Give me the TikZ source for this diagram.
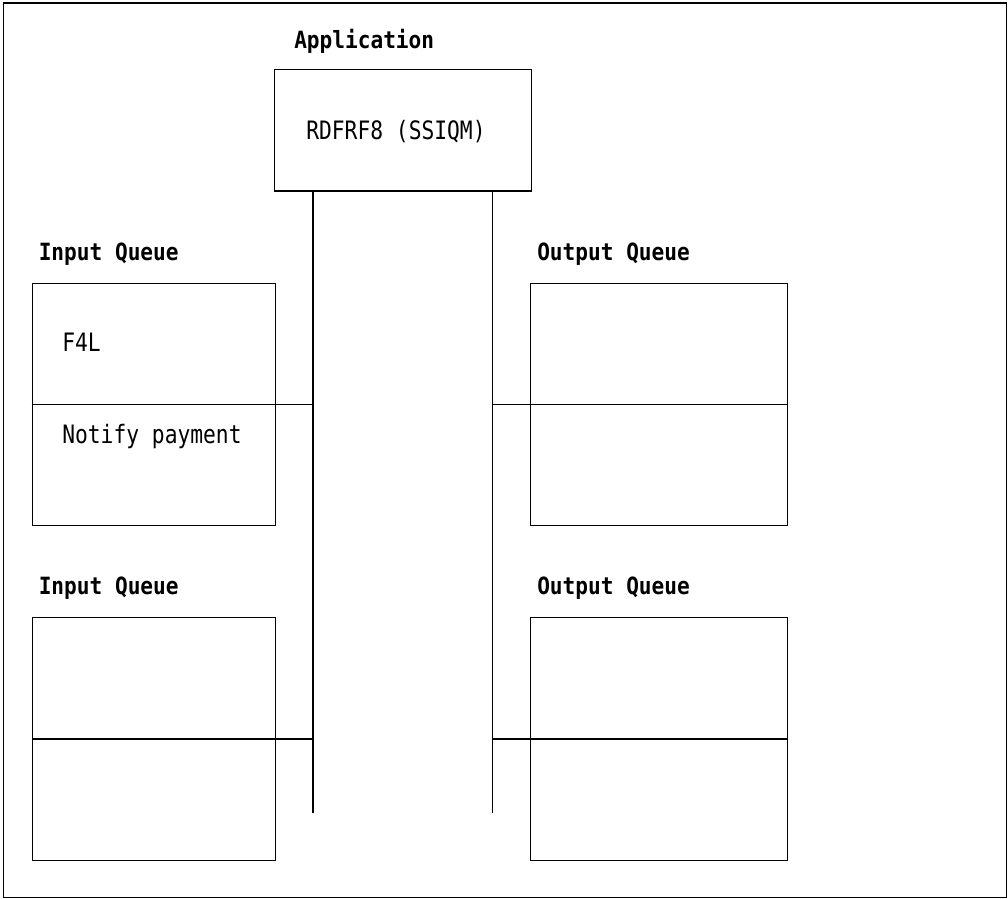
\documentclass[tikz,border=0pt]{standalone}
\usepackage{fontspec}
\newfontfamily\qmono[FakeStretch=0.84]{DejaVu Sans Mono}
\newfontfamily\qmonob[FakeStretch=0.89]{DejaVu Sans Mono}
\def\u{0.75pt}
\tikzset{
  qbox/.style={draw, line width=1.1pt, rectangle, inner sep=0pt, anchor=north west},
  qline/.style={line width=1.1pt},
  qtitle/.style={anchor=base west, inner sep=0pt, font=\qmonob\bfseries\fontsize{17.8}{20}\selectfont},
  qtext/.style={anchor=base west, inner sep=0pt, font=\qmono\fontsize{19}{22}\selectfont},
}
\begin{document}
\begin{tikzpicture}[x=0.75pt,y=-0.75pt]
\useasboundingbox (0,0) rectangle (1008,899);
\draw[qline] (3.5,3) rectangle (1006.5,897.5);

% application
\node[qtitle] (apptitle) at (294,48.3) {Application};
\node[qbox, minimum width=257*\u, minimum height=121.5*\u] (app) at (274,69) {};
\node[qtext] (apptext) at (306,140) {RDFRF8 (SSIQM)};

% vertical connectors
\coordinate (vl) at (313,813);
\coordinate (vr) at (492.3,813);
\draw[qline] (vl |- app.south) -- (vl);
\draw[qline] (vr |- app.south) -- (vr);

% input queue 1
\node[qtitle] (in1title) at (38.5,260) {Input Queue};
\node[qbox, minimum width=243.5*\u, minimum height=242.5*\u] (in1) at (31.5,282.5) {};
\draw[qline] (in1.west) -- (in1.west -| vl);
\node[qtext] (f4l) at (62,351) {F4L};
\node[qtext] (notify) at (62,443.3) {Notify payment};

% output queue 1
\node[qtitle] (out1title) at (537,260) {Output Queue};
\node[qbox, minimum width=257*\u, minimum height=242.5*\u] (out1) at (530,282.5) {};
\draw[qline] (out1.east) -- (out1.east -| vr);

% input queue 2
\node[qtitle] (in2title) at (38.5,594.3) {Input Queue};
\node[qbox, minimum width=243.5*\u, minimum height=242.5*\u] (in2) at (31.5,617) {};
\draw[qline] (in2.west) -- (in2.west -| vl);

% output queue 2
\node[qtitle] (out2title) at (537,594.3) {Output Queue};
\node[qbox, minimum width=257*\u, minimum height=242.5*\u] (out2) at (530,617) {};
\draw[qline] (out2.east) -- (out2.east -| vr);
\end{tikzpicture}
\end{document}
